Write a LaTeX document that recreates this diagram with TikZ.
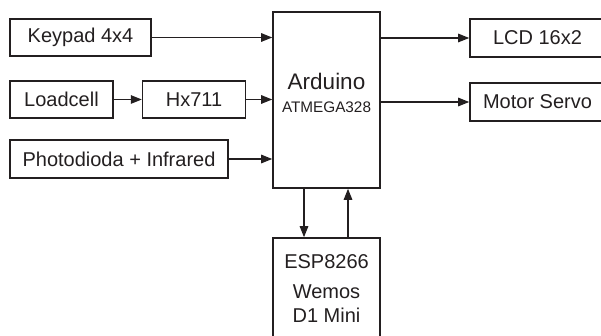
\documentclass[tikz,border=0pt]{standalone}
\usepackage{fontspec}
\setmainfont{Liberation Sans}
\usetikzlibrary{positioning, arrows.meta}
\definecolor{ink}{HTML}{231F20}

\begin{document}
\begin{tikzpicture}[x=1pt, y=-1pt,
        every node/.style={font=\fontsize{20}{24}\selectfont, text=ink},
        block/.style={rectangle, draw=ink, line width=1.6pt, minimum width=#1, minimum height=37pt, inner sep=0pt, align=center},
        arrow/.style={-{Triangle[length=11pt, width=8.5pt]}, draw=ink, line width=1.3pt}
    ]
    \clip (0,0) rectangle (601,336);
%
    \node[block=141pt] (keypad) at (80.5,37.5) {Keypad 4x4};
    \node[block=103pt] (loadcell) at (61.5,99.5) {Loadcell};
    \node[block=103pt, right=28pt of loadcell] (hx) {Hx711};
    \node[block=218pt, minimum height=38pt] (photo) at (119,159) {Photodioda + Infrared};
%
    \node[block=107pt, minimum height=176pt] (arduino) at (326.5,100) {};
    \node[align=center, inner sep=0pt] (arduinotxt) at (326.5,93) {\fontsize{22.5}{25}\selectfont Arduino\\[-1pt]\fontsize{15.3}{18}\selectfont ATMEGA328};
%
    \node[block=135pt, minimum height=38pt] (lcd) at (537.5,38) {LCD 16x2};
    \node[block=135pt, minimum height=38pt] (servo) at (537.5,102) {Motor Servo};
%
    \node[block=107pt, minimum height=112pt] (esp) at (326.5,294) {};
    \node[align=center, inner sep=0pt] (esptxt) at (326.5,289) {ESP8266\\[6pt]Wemos\\D1 Mini};
%
    \draw[arrow] (keypad.east) -- (keypad.east -| arduino.west);
    \draw[arrow] (loadcell) -- (hx);
    \draw[arrow] (hx.east) -- (hx.east -| arduino.west);
    \draw[arrow] (photo.east) -- (photo.east -| arduino.west);
    \draw[arrow] (arduino.east |- lcd.west) -- (lcd.west);
    \draw[arrow] (arduino.east |- servo.west) -- (servo.west);
    \draw[arrow] ([xshift=-22.5pt]arduino.south) -- ([xshift=-22.5pt]esp.north);
    \draw[arrow] ([xshift=21.5pt]esp.north) -- ([xshift=21.5pt]arduino.south);
%
\end{tikzpicture}
\end{document}
